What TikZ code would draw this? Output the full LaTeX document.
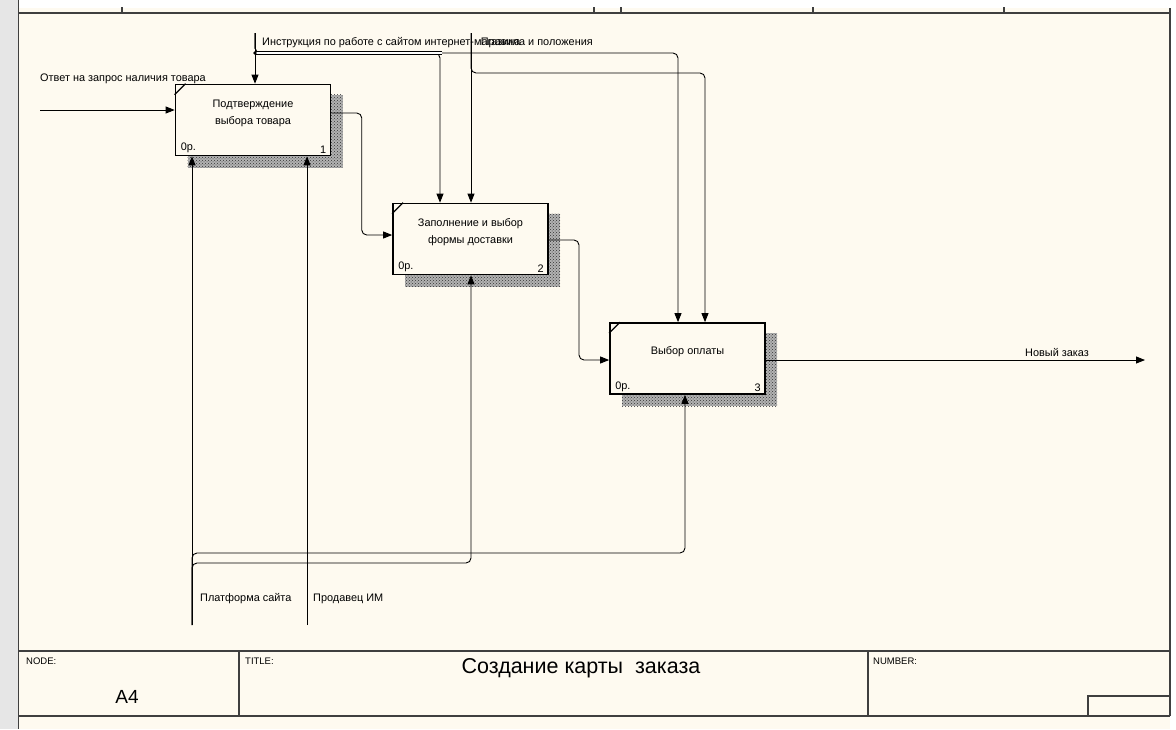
\documentclass[tikz,border=0pt]{standalone}
\usepackage{fontspec}
\setmainfont{Liberation Sans}
\usetikzlibrary{arrows.meta, patterns, calc, positioning}
\definecolor{papiercreme}{HTML}{FEFAF0}
\definecolor{cadregris}{HTML}{3F3F3F}
\definecolor{margegris}{HTML}{E6E6E6}

\begin{document}
\begin{tikzpicture}[x=1pt, y=-1pt, >={Triangle[length=9pt, width=7pt]},
  every node/.style={font=\fontsize{10.9}{13}\selectfont, inner sep=0pt},
  fonction/.style={draw=black, line width=1.7pt, fill=papiercreme, minimum width=155pt, minimum height=71pt},
  texte/.style={align=center, font=\fontsize{10.9}{17}\selectfont},
  fleche/.style={->, line width=0.9pt, rounded corners=5pt},
  ombre/.style={preaction={fill=black!30}, pattern=crosshatch dots, pattern color=black!80},
  cadre/.style={draw=cadregris, line width=1.3pt},
  etiquette/.style={anchor=base west},
  petit/.style={font=\fontsize{9.5}{11}\selectfont, anchor=base west}]

  \useasboundingbox (0,0) rectangle (1176,729);

  % Feuille
  \fill[margegris] (0,0) rectangle (18,729);
  \fill[papiercreme] (18,8) rectangle (1170,729);
  \draw[cadre] (18.5,0) -- (18.5,729);
  \draw[cadre] (18.5,13) -- (1170,13);
  \draw[cadre] (1170,8) -- (1170,716);
  \foreach \x in {122, 594, 621, 813, 1004} {
    \draw[cadre] (\x,7) -- (\x,13);
  }

  % Cartouche
  \draw[cadre] (18.5,651) -- (1170,651);
  \draw[cadre] (18.5,716) -- (1170,716);
  \draw[cadre] (239,651) -- (239,716);
  \draw[cadre] (868,651) -- (868,716);
  \draw[cadre] (1088,716) -- (1088,696) -- (1170,696);
  \node[petit] (lnode) at (26,664) {NODE:};
  \node[petit] (ltitle) at (245,664) {TITLE:};
  \node[petit] (lnumber) at (873,664) {NUMBER:};
  \node[font=\fontsize{19}{22}\selectfont] (noeud) at (127,697) {A4};
  \node[font=\fontsize{21.5}{24}\selectfont] (titre) at (581,668) {Создание карты \ заказа};

  % Ombres des blocs
  \foreach \cx/\cy in {253/120, 470.5/239, 687.5/358.5} {
    \fill[ombre] ({\cx-65.5},{\cy-25.5}) rectangle ({\cx+89.5},{\cy+47.5});
  }

  % Blocs
  \node[fonction] (b1) at (253,120) {};
  \node[fonction] (b2) at (470.5,239) {};
  \node[fonction] (b3) at (687.5,358.5) {};
  \node[texte] (t1) at ([yshift=7pt]b1.center) {Подтверждение\\выбора товара};
  \node[texte] (t2) at ([yshift=7pt]b2.center) {Заполнение и выбор\\формы доставки};
  \node[texte] (t3) at ([yshift=6.5pt]b3.center) {Выбор оплаты};
  \foreach \b/\n in {b1/1, b2/2, b3/3} {
    \draw[line width=1.2pt] ([yshift=-11pt]\b.north west) -- ([xshift=11pt]\b.north west);
    \node[anchor=south west] (cout\n) at ([xshift=6pt, yshift=3pt]\b.south west) {0р.};
    \node[anchor=south east] (num\n) at ([xshift=-5pt, yshift=3pt]\b.south east) {\n};
  }

  % Entrée
  \coordinate (e1) at (40,110);
  \draw[fleche] (e1) -- (e1 -| b1.west);
  \node[etiquette] (le1) at (40,81) {Ответ на запрос наличия товара};

  % Contrôles
  \coordinate (c1) at (255,33);
  \coordinate (c2) at (471,33);
  \coordinate (k1) at (440,53);
  \coordinate (k2) at (678,53);
  \coordinate (k3) at (705,73);
  \draw[fleche] (c1) -- (c1 |- b1.north);
  \draw[fleche] (c1) -- (c1 |- k1) -- (k1) -- (k1 |- b2.north);
  \draw[fleche] (c1) -- (c1 |- k2) -- (k2) -- (k2 |- b3.north);
  \draw[fleche] (c2) -- (c2 |- b2.north);
  \draw[fleche] (c2) -- (c2 |- k3) -- (k3) -- (k3 |- b3.north);
  \draw[line width=0.9pt, double=white, double distance=1.8pt] (c1 |- k1) -- ([xshift=2pt]k1);
  \fill (c1 |- k1) circle (1.8pt);
  \node[etiquette] (lc1) at (262,45) {Инструкция по работе с сайтом интернет-магазина};
  \node[anchor=base east] (lc2) at (593,45) {Правила и положения};

  % Liens entre blocs
  \draw[fleche] ([yshift=7pt]b1.east) -| ($(b1.east)!0.5!(b2.west)$) |- ([yshift=4pt]b2.west);
  \draw[fleche] ([yshift=-1pt]b2.east) -| ($(b2.east)!0.5!(b3.west)$) |- ([yshift=-1.5pt]b3.west);

  % Sortie
  \coordinate (s1) at (1145,360);
  \draw[fleche] ([yshift=-1.5pt]b3.east) -- (s1);
  \node[etiquette] (ls1) at (1025,356) {Новый заказ};

  % Mécanismes
  \coordinate (m1) at (192,625);
  \coordinate (m2) at (307,625);
  \coordinate (k4) at (471,563);
  \coordinate (k5) at (685,553);
  \draw[fleche] (m1) -- (m1 |- b1.south);
  \draw[fleche] (m2) -- (m2 |- b1.south);
  \draw[fleche] (m1) -- (m1 |- k4) -- (k4) -- (k4 |- b2.south);
  \draw[fleche] (m1) -- (m1 |- k5) -- (k5) -- (k5 |- b3.south);
  \node[etiquette] (lm1) at (200,601) {Платформа сайта};
  \node[etiquette] (lm2) at (313,601) {Продавец ИМ};

\end{tikzpicture}
\end{document}
